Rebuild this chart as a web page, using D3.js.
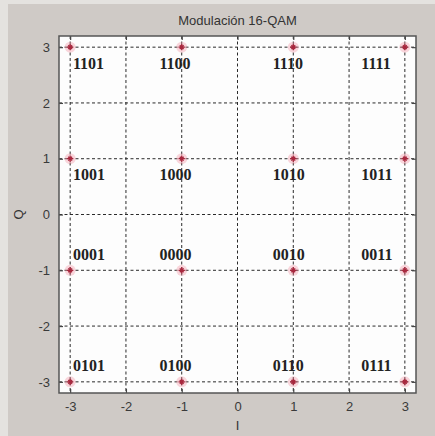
<!DOCTYPE html>
<html>
<head>
<meta charset="utf-8">
<script src="https://cdn.jsdelivr.net/npm/d3@7"></script>
<style>
  html, body { margin: 0; padding: 0; background: #cfcac6; }
  svg { display: block; }
</style>
</head>
<body>
<svg id="chart" width="435" height="436"></svg>
<script>
// 16-QAM constellation: in-phase / quadrature levels and Gray codes
const levelsI = [-3, -1, 1, 3];
const levelsQ = [3, 1, -1, -3];
const codes = [
  ["1101", "1100", "1110", "1111"],
  ["1001", "1000", "1010", "1011"],
  ["0001", "0000", "0010", "0011"],
  ["0101", "0100", "0110", "0111"]
];
// label placement relative to each symbol (data units)
const labelDx = [0.05, -0.4, -0.37, -0.78];
const labelDy = [-0.3, -0.28, 0.28, 0.3];
const ticks = [-3, -2, -1, 0, 1, 2, 3];
const title = "Modulación 16-QAM";

const svg = d3.select("#chart");
const W = 435, H = 436;
const box = { left: 59, right: 416, top: 36, bottom: 393 };

// figure background with lighter edge strips
svg.append("rect").attr("width", W).attr("height", H).attr("fill", "#cfcac6");
svg.append("rect").attr("x", 0).attr("y", 0).attr("width", 8).attr("height", H).attr("fill", "#e4e2df");
svg.append("rect").attr("x", 0).attr("y", 0).attr("width", W).attr("height", 4).attr("fill", "#e4e2df");

const x = d3.scaleLinear().domain([-3.2, 3.2]).range([box.left, box.right]);
const y = d3.scaleLinear().domain([-3.2, 3.2]).range([box.bottom, box.top]);

// plot area
svg.append("rect")
  .attr("x", box.left).attr("y", box.top)
  .attr("width", box.right - box.left).attr("height", box.bottom - box.top)
  .attr("fill", "#fdfdfd");

// dotted grid
const grid = svg.append("g").attr("stroke", "#2a2a2a").attr("stroke-width", 1)
  .attr("stroke-dasharray", "3,2.5");
grid.selectAll(".gx").data(ticks).join("line")
  .attr("x1", d => x(d)).attr("x2", d => x(d))
  .attr("y1", box.top).attr("y2", box.bottom);
grid.selectAll(".gy").data(ticks).join("line")
  .attr("y1", d => y(d)).attr("y2", d => y(d))
  .attr("x1", box.left).attr("x2", box.right);

// axes with inward ticks
const tickLen = 4;
const axisColor = "#444";
const font = "Arial, 'Liberation Sans', sans-serif";
const fmt = d => String(d);

const bottomAxis = svg.append("g").attr("transform", `translate(0,${box.bottom})`)
  .call(d3.axisBottom(x).tickValues(ticks).tickFormat(fmt).tickSizeInner(-tickLen).tickSizeOuter(0).tickPadding(9));
const leftAxis = svg.append("g").attr("transform", `translate(${box.left},0)`)
  .call(d3.axisLeft(y).tickValues(ticks).tickFormat(fmt).tickSizeInner(-tickLen).tickSizeOuter(0).tickPadding(9));
const topAxis = svg.append("g").attr("transform", `translate(0,${box.top})`)
  .call(d3.axisTop(x).tickValues(ticks).tickSizeInner(-tickLen).tickSizeOuter(0).tickFormat(""));
const rightAxis = svg.append("g").attr("transform", `translate(${box.right},0)`)
  .call(d3.axisRight(y).tickValues(ticks).tickSizeInner(-tickLen).tickSizeOuter(0).tickFormat(""));

[bottomAxis, leftAxis, topAxis, rightAxis].forEach(a => {
  a.select(".domain").remove();
  a.selectAll(".tick line").attr("stroke", axisColor).attr("stroke-width", 1.2);
  a.selectAll(".tick text").attr("fill", "#3a3a3a").attr("font-family", font).attr("font-size", 13);
});

// box outline
svg.append("rect")
  .attr("x", box.left).attr("y", box.top)
  .attr("width", box.right - box.left).attr("height", box.bottom - box.top)
  .attr("fill", "none").attr("stroke", "#555").attr("stroke-width", 1.5);

// constellation points
const points = [];
levelsQ.forEach((q, r) => levelsI.forEach((i, c) => points.push({ i, q, r, c, code: codes[r][c] })));

const pts = svg.append("g").selectAll("g").data(points).join("g")
  .attr("transform", d => `translate(${x(d.i)},${y(d.q)})`);
pts.append("circle").attr("r", 5.5).attr("fill", "#f08a9a").attr("opacity", 0.35);
const s = 3.2;
pts.append("path")
  .attr("d", `M${-s},0H${s}M0,${-s}V${s}M${-s * 0.6},${-s * 0.6}L${s * 0.6},${s * 0.6}M${-s * 0.6},${s * 0.6}L${s * 0.6},${-s * 0.6}`)
  .attr("stroke", "#a8283e").attr("stroke-width", 1.3);

// code labels
svg.append("g").selectAll("text").data(points).join("text")
  .attr("x", d => x(d.i + labelDx[d.c]))
  .attr("y", d => y(d.q + labelDy[d.r]))
  .attr("dy", "0.35em")
  .attr("font-family", "'Liberation Serif', 'Times New Roman', serif")
  .attr("font-weight", "bold")
  .attr("font-size", 16)
  .attr("fill", "#222")
  .text(d => d.code);

// title and axis labels
svg.append("text").attr("x", (box.left + box.right) / 2).attr("y", 25)
  .attr("text-anchor", "middle").attr("font-family", font).attr("font-size", 13)
  .attr("fill", "#333").text(title);
svg.append("text").attr("x", (box.left + box.right) / 2).attr("y", 430)
  .attr("text-anchor", "middle").attr("font-family", font).attr("font-size", 13)
  .attr("fill", "#333").text("I");
svg.append("text").attr("transform", `translate(23,${(box.top + box.bottom) / 2}) rotate(-90)`)
  .attr("text-anchor", "middle").attr("font-family", font).attr("font-size", 13)
  .attr("fill", "#333").text("Q");
</script>
</body>
</html>
